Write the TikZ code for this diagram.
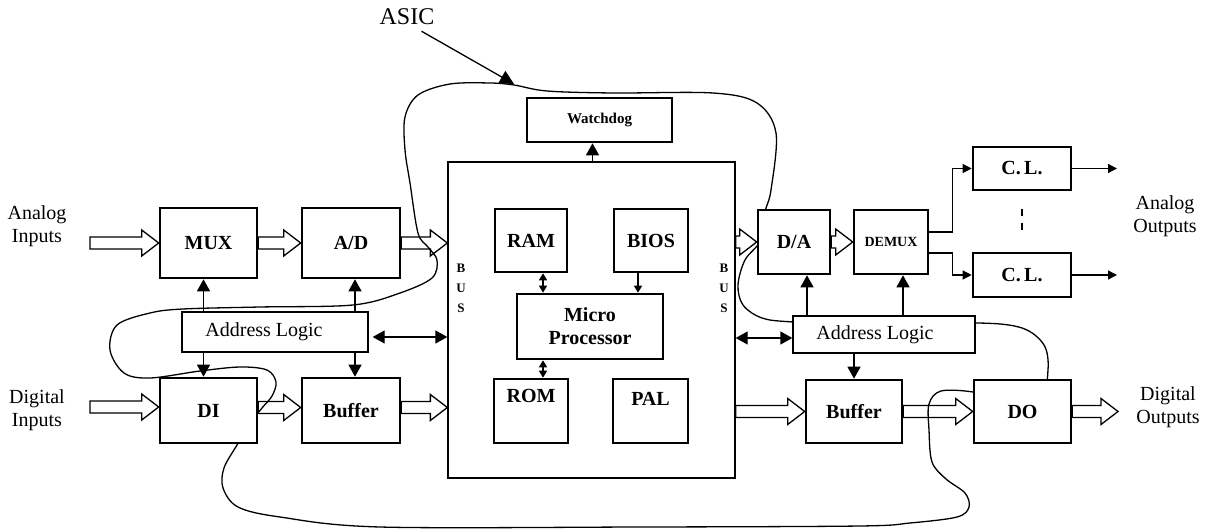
\documentclass[tikz,border=0pt]{standalone}
\usepackage{fontspec}
\setmainfont{Liberation Serif}
\usetikzlibrary{arrows.meta,calc,backgrounds}

% horizontal block (hollow) arrow from the first point to the x of the second
\newcommand\blockarrow[2]{%
  \path (#1) coordinate (bas) (#2) coordinate (bae);
  \draw[hollow] let \p1=(bas), \p2=(bae) in
    (\x1,\y1+6pt) -- (\x2-17pt,\y1+6pt) -- (\x2-17pt,\y1+13pt) -- (\x2,\y1)
    -- (\x2-17pt,\y1-13pt) -- (\x2-17pt,\y1-6pt) -- (\x1,\y1-6pt) -- cycle;
}

\begin{document}
\begin{tikzpicture}[x=1pt,y=-1pt,
  boldtext/.style={font=\bfseries\fontsize{20}{23}\selectfont},
  thick box/.style={draw, line width=2.6pt, fill=white, inner sep=0pt, boldtext},
  thin box/.style={draw, line width=1.3pt, fill=white, inner sep=0pt,
    font=\fontsize{20}{23}\selectfont},
  caption/.style={align=center, inner sep=0pt, font=\fontsize{20}{23}\selectfont},
  hollow/.style={draw, fill=white, line width=1.3pt, line join=miter},
  sarrow/.style={line width=1.3pt, -{Triangle[length=12pt,width=13pt]}},
  darrow/.style={line width=1.3pt,
    {Triangle[length=12pt,width=13pt]}-{Triangle[length=12pt,width=13pt]}},
  tiny arrow/.style={line width=1.3pt, -{Triangle[length=7pt,width=8pt]}},
  tiny darrow/.style={line width=1.3pt,
    {Triangle[length=7pt,width=8pt]}-{Triangle[length=7pt,width=8pt]}},
  busfont/.style={align=center, inner sep=0pt,
    font=\bfseries\fontsize{13}{20}\selectfont},
]
\useasboundingbox (0,0) rectangle (1207,529);

% ---------- central processor block ----------
\node[thin box, minimum width=287pt, minimum height=316pt] (main) at (591.5,320) {};
\node[thick box, minimum width=145pt, minimum height=44pt,
  font=\bfseries\fontsize{15}{18}\selectfont] (wd) at (599.5,120) {Watchdog};
\node[thick box, minimum width=72pt, minimum height=63pt] (ram) at (531,240.5) {RAM};
\node[thick box, minimum width=74pt, minimum height=63pt] (bios) at (651,240.5) {BIOS};
\node[thick box, minimum width=146pt, minimum height=65pt, align=center] (mp) at (590,326.5)
  {Micro\\Processor};
\node[thick box, minimum width=74pt, minimum height=64pt,
  label={[anchor=north, yshift=-8pt, boldtext]north:ROM}]
  (rom) at (531,411) {};
\node[thick box, minimum width=75pt, minimum height=64pt,
  label={[anchor=north, yshift=-11pt, boldtext]north:PAL}]
  (pal) at (650.5,411) {};
\node[busfont] (busl) at (461,288) {B\\U\\S};
\node[busfont] (busr) at (724,288) {B\\U\\S};

% ---------- input side ----------
\node[caption] (ain) at (37,226) {Analog\\Inputs};
\node[caption] (din) at (37,410) {Digital\\Inputs};
\node[thick box, minimum width=97pt, minimum height=70pt] (mux) at (208.5,243) {MUX};
\node[thick box, minimum width=98pt, minimum height=70pt] (ad) at (351,243) {A/D};
\node[thin box, minimum width=186pt, minimum height=40pt,
  label={[xshift=-11pt, font=\fontsize{20}{23}\selectfont]center:Address Logic}]
  (all) at (275,332) {};
\node[thick box, minimum width=97pt, minimum height=65pt] (di) at (208.5,410.5) {DI};
\node[thick box, minimum width=98pt, minimum height=65pt] (bufl) at (351,410.5) {Buffer};

% ---------- output side ----------
\node[thick box, minimum width=72pt, minimum height=64pt] (da) at (794,242) {D/A};
\node[thick box, minimum width=74pt, minimum height=64pt,
  font=\bfseries\fontsize{14}{17}\selectfont] (demux) at (891,242) {DEMUX};
\node[thick box, minimum width=98pt, minimum height=43pt] (cla) at (1022,168.5) {C.\,L.};
\node[thick box, minimum width=98pt, minimum height=44pt] (clb) at (1022,275) {C.\,L.};
\node[thin box, minimum width=182pt, minimum height=37pt,
  label={[xshift=-9pt, font=\fontsize{20}{23}\selectfont]center:Address Logic}]
  (alr) at (884,334.5) {};
\node[thick box, minimum width=96pt, minimum height=63pt] (bufr) at (854,411.5) {Buffer};
\node[thick box, minimum width=97pt, minimum height=63pt] (do) at (1022.5,411.5) {DO};
\node[caption] (aout) at (1165,216) {Analog\\Outputs};
\node[caption] (dout) at (1168,407) {Digital\\Outputs};

\node[inner sep=0pt, font=\fontsize{24}{28}\selectfont] (asic) at (407,17) {ASIC};

% free ends of connectors
\coordinate (ainend) at (90,243);
\coordinate (dinend) at (90,407);
\coordinate (doutend) at (1118,412);
\coordinate (claend) at (1117,168.5);
\coordinate (clbend) at (1117,275);
\coordinate (mpin) at (471,327);
\coordinate (mpout) at (713,327);
\coordinate (asictip) at (514,84);

\begin{pgfonlayer}{background}
  % data paths
  \blockarrow{ainend}{mux.west}
  \blockarrow{mux.east}{ad.west}
  \blockarrow{ad.east}{main.west}
  \blockarrow{dinend}{di.west}
  \blockarrow{[yshift=3pt]di.east}{bufl.west}
  \blockarrow{[yshift=3pt]bufl.east}{main.west}
  \blockarrow{mpin}{mp.west}
  \blockarrow{mp.east}{mpout}
  \blockarrow{main.east |- da.west}{da.west}
  \blockarrow{da.east}{demux.west}
  \blockarrow{main.east |- bufr.west}{bufr.west}
  \blockarrow{bufr.east}{do.west}
  \blockarrow{do.east}{doutend}

  % outline of the ASIC
  \draw[line width=1.3pt] plot[smooth cycle, tension=0.55] coordinates {
    (514,85) (547,91) (613,93) (713,93) (757,103) (776,133) (771,190) (765,212)
    (761,240) (745,260) (738,285) (743,305) (762,318) (793,322) (880,326)
    (977,323) (1022,328) (1044,345) (1048,370) (1040,398) (1000,400)
    (973,392) (941,391) (929,404) (929,430) (932,462) (946,479) (965,493)
    (969,507) (957,517) (910,523) (860,526) (640,527) (380,527) (280,517)
    (238,507) (223,488) (224,468) (237,445) (249,425) (262,408) (272,396)
    (276,382) (267,370) (240,367) (200,371) (150,378) (124,373) (110,350)
    (117,325) (150,313) (183,309) (260,307) (353,305) (400,293) (432,278)
    (437,260) (428,247) (418,233) (410,183) (405,150) (405,117) (418,95)
    (450,84) (490,83)};
\end{pgfonlayer}

% ASIC pointer
\draw[line width=1.3pt, -{Triangle[length=14pt,width=14pt]}]
  ([xshift=-13pt,yshift=-6pt]asic.south east) -- (asictip);

% watchdog
\draw[sarrow] ([xshift=-7pt]main.north -| wd.south) -- ([xshift=-7pt]wd.south);

% memory links
\draw[tiny darrow] ([xshift=12pt]ram.south) -- ([xshift=12pt]ram.south |- mp.north);
\draw[tiny arrow] ([xshift=-13pt]bios.south) -- ([xshift=-13pt]bios.south |- mp.north);
\draw[tiny darrow] ([xshift=12pt]rom.north |- mp.south) -- ([xshift=12pt]rom.north);

% input address logic
\draw[sarrow] ([xshift=-5pt]mux.south |- all.north) -- ([xshift=-5pt]mux.south);
\draw[sarrow] ([xshift=4pt]ad.south |- all.north) -- ([xshift=4pt]ad.south);
\draw[sarrow] ([xshift=-5pt]di.north |- all.south) -- ([xshift=-5pt]di.north);
\draw[sarrow] ([xshift=4pt]bufl.north |- all.south) -- ([xshift=4pt]bufl.north);
\draw[darrow] ([yshift=-5pt,xshift=4pt]all.east) -- ([yshift=-5pt]all.east -| main.west);

% output address logic
\draw[darrow] ([yshift=-3.5pt]alr.west -| main.east) -- ([yshift=-3.5pt]alr.west);
\draw[sarrow] ([xshift=13pt]da.south |- alr.north) -- ([xshift=13pt]da.south);
\draw[sarrow] ([xshift=12pt]demux.south |- alr.north) -- ([xshift=12pt]demux.south);
\draw[sarrow] (bufr.north |- alr.south) -- (bufr.north);

% demultiplexer to current loops
\draw[line width=1.3pt, -{Triangle[length=9pt,width=9pt]}]
  ([yshift=10pt]demux.east) -- ++(23,0) |- (cla.west);
\draw[line width=1.3pt, -{Triangle[length=9pt,width=9pt]}]
  ([yshift=-11pt]demux.east) -- ++(23,0) |- (clb.west);
\draw[line width=1.3pt, -{Triangle[length=9pt,width=9pt]}] (cla.east) -- (claend);
\draw[line width=1.3pt, -{Triangle[length=9pt,width=9pt]}] (clb.east) -- (clbend);

% vertical ellipsis between the current loops
\draw[line width=2.5pt] (1022,209) -- (1022,216) (1022,223) -- (1022,230);

\end{tikzpicture}
\end{document}
